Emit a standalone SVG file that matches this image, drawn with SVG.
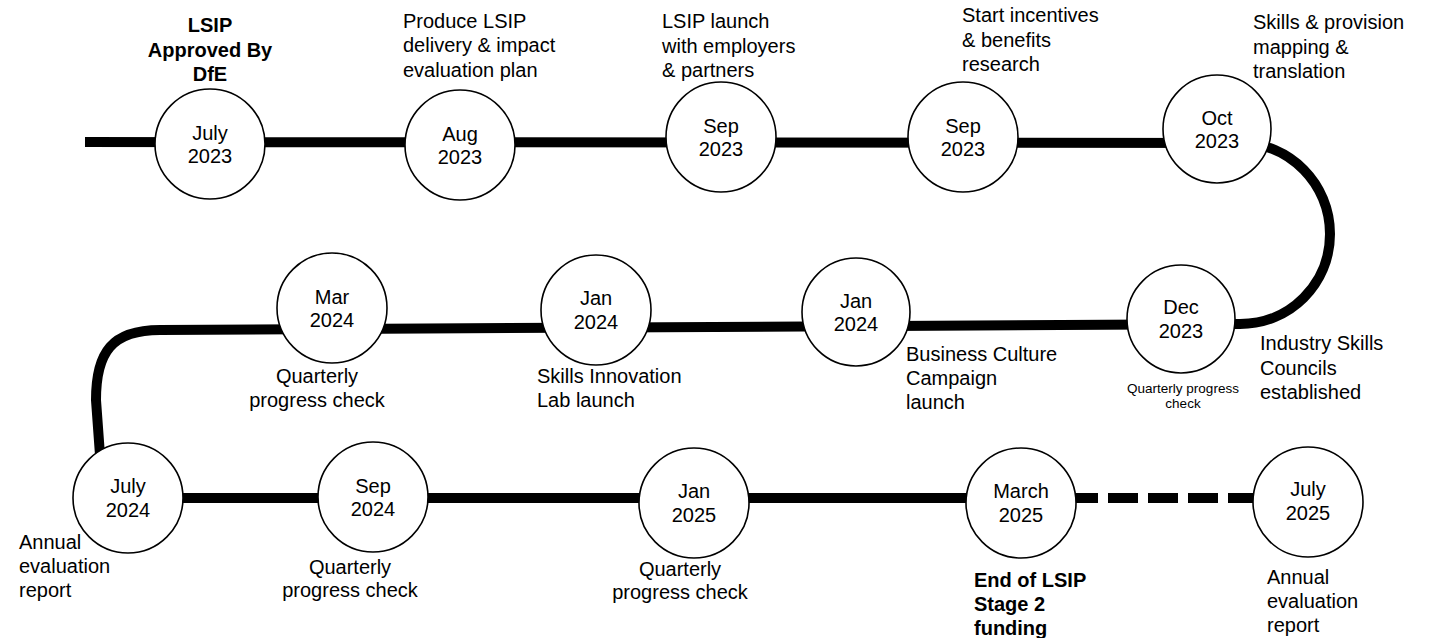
<svg xmlns="http://www.w3.org/2000/svg" width="1429" height="638" viewBox="0 0 1429 638">
<style>
text{font-family:"Liberation Sans",Arial,sans-serif;font-size:20px;fill:#000}
.c{text-anchor:middle}
.b{font-weight:bold}
.s{font-size:13.5px}
.node circle{fill:#fff;stroke:#000;stroke-width:1.6}
.track{fill:none;stroke:#000;stroke-width:10}
.dash{stroke-dasharray:30 10}
</style>
<rect width="1429" height="638" fill="#fff"/>
<g id="connectors">
<path class="track" d="M85,142 L1240,143 C1290,143 1330,184 1330,234 C1330,284 1290,324 1240,324 L160,330 C112,330 96,352 96,400 L100,455"/>
<path class="track" d="M128,498 L1022,498"/>
<path class="track dash" d="M1068,498 L1262,498"/>
</g>
<g id="n-jul23" class="node">
<circle cx="210" cy="144" r="55"/>
<text class="c" x="210" y="140">July</text><text class="c" x="210" y="163">2023</text>
<text class="c b" x="210" y="32">LSIP</text><text class="c b" x="210" y="57">Approved By</text><text class="c b" x="210" y="81">DfE</text>
</g>
<g id="n-aug23" class="node">
<circle cx="460" cy="145" r="55"/>
<text class="c" x="460" y="141">Aug</text><text class="c" x="460" y="164">2023</text>
<text x="403" y="28">Produce LSIP</text><text x="403" y="52">delivery &amp; impact</text><text x="403" y="77">evaluation plan</text>
</g>
<g id="n-sep23a" class="node">
<circle cx="721" cy="137" r="55"/>
<text class="c" x="721" y="133">Sep</text><text class="c" x="721" y="156">2023</text>
<text x="662" y="28">LSIP launch</text><text x="662" y="53">with employers</text><text x="662" y="77">&amp; partners</text>
</g>
<g id="n-sep23b" class="node">
<circle cx="963" cy="137" r="55"/>
<text class="c" x="963" y="133">Sep</text><text class="c" x="963" y="156">2023</text>
<text x="962" y="22">Start incentives</text><text x="962" y="47">&amp; benefits</text><text x="962" y="71">research</text>
</g>
<g id="n-oct23" class="node">
<circle cx="1217" cy="129" r="54"/>
<text class="c" x="1217" y="125">Oct</text><text class="c" x="1217" y="148">2023</text>
<text x="1253" y="29">Skills &amp; provision</text><text x="1253" y="54">mapping &amp;</text><text x="1253" y="78">translation</text>
</g>
<g id="n-dec23" class="node">
<circle cx="1181" cy="319" r="54"/>
<text class="c" x="1181" y="314">Dec</text><text class="c" x="1181" y="338">2023</text>
<text class="c s" x="1183" y="393">Quarterly progress</text><text class="c s" x="1183" y="408">check</text>
<text x="1260" y="350">Industry Skills</text><text x="1260" y="375">Councils</text><text x="1260" y="399">established</text>
</g>
<g id="n-jan24b" class="node">
<circle cx="856" cy="312" r="54"/>
<text class="c" x="856" y="308">Jan</text><text class="c" x="856" y="331">2024</text>
<text x="906" y="361">Business Culture</text><text x="906" y="385">Campaign</text><text x="906" y="409">launch</text>
</g>
<g id="n-jan24a" class="node">
<circle cx="596" cy="310" r="55"/>
<text class="c" x="596" y="305">Jan</text><text class="c" x="596" y="329">2024</text>
<text x="537" y="383">Skills Innovation</text><text x="537" y="407">Lab launch</text>
</g>
<g id="n-mar24" class="node">
<circle cx="332" cy="308" r="55"/>
<text class="c" x="332" y="304">Mar</text><text class="c" x="332" y="327">2024</text>
<text class="c" x="317" y="383">Quarterly</text><text class="c" x="317" y="407">progress check</text>
</g>
<g id="n-jul24" class="node">
<circle cx="128" cy="498" r="55"/>
<text class="c" x="128" y="493">July</text><text class="c" x="128" y="517">2024</text>
<text x="19" y="549">Annual</text><text x="19" y="573">evaluation</text><text x="19" y="597">report</text>
</g>
<g id="n-sep24" class="node">
<circle cx="373" cy="497" r="55"/>
<text class="c" x="373" y="493">Sep</text><text class="c" x="373" y="516">2024</text>
<text class="c" x="350" y="574">Quarterly</text><text class="c" x="350" y="597">progress check</text>
</g>
<g id="n-jan25" class="node">
<circle cx="694" cy="503" r="55"/>
<text class="c" x="694" y="498">Jan</text><text class="c" x="694" y="522">2025</text>
<text class="c" x="680" y="576">Quarterly</text><text class="c" x="680" y="599">progress check</text>
</g>
<g id="n-mar25" class="node">
<circle cx="1021" cy="503" r="55"/>
<text class="c" x="1021" y="498">March</text><text class="c" x="1021" y="522">2025</text>
<text class="b" x="974" y="587">End of LSIP</text><text class="b" x="974" y="611">Stage 2</text><text class="b" x="974" y="635">funding</text>
</g>
<g id="n-jul25" class="node">
<circle cx="1308" cy="502" r="55"/>
<text class="c" x="1308" y="496">July</text><text class="c" x="1308" y="520">2025</text>
<text x="1267" y="584">Annual</text><text x="1267" y="608">evaluation</text><text x="1267" y="632">report</text>
</g>
</svg>
